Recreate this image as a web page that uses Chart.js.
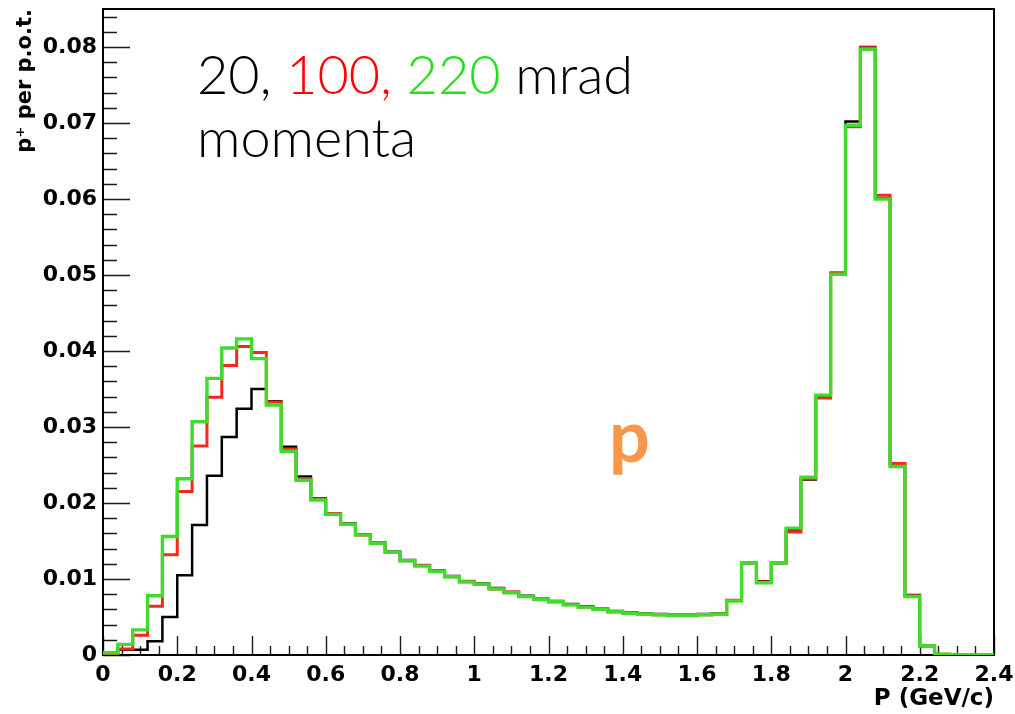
<!DOCTYPE html>
<html><head><meta charset="utf-8">
<script src="https://cdn.jsdelivr.net/npm/chart.js@4"></script>
<style>html,body{margin:0;padding:0;background:#fff;overflow:hidden;} canvas{display:block;}</style>
</head><body>
<canvas id="c" width="1015" height="714"></canvas>
<script>
// Histogram binning (60 bins, 0 – 2.4 GeV/c)
const binLow = 0;
const binWidth = 0.04;

// p+ per p.o.t. per bin
const mrad20 = [
  0.0000, 0.0007, 0.0007, 0.0018, 0.0050, 0.0105, 0.0171, 0.0236, 0.0287, 0.0324,
  0.0350, 0.0334, 0.0274, 0.0235, 0.0206, 0.0186, 0.0173, 0.0159, 0.0148, 0.0136,
  0.0125, 0.0118, 0.0111, 0.0104, 0.0097, 0.0094, 0.0088, 0.0083, 0.0078, 0.0074,
  0.0071, 0.0067, 0.0064, 0.0061, 0.0058, 0.0056, 0.0055, 0.0054, 0.0053, 0.0053,
  0.0054, 0.0055, 0.0072, 0.0121, 0.0097, 0.0121, 0.0165, 0.0231, 0.0340, 0.0503,
  0.0702, 0.0800, 0.0601, 0.0252, 0.0079, 0.0012, 0.0001, 0.0000, 0.0000, 0.0000
];
const mrad100 = [
  0.0002, 0.0008, 0.0026, 0.0064, 0.0132, 0.0215, 0.0275, 0.0339, 0.0381, 0.0406,
  0.0398, 0.0333, 0.0271, 0.0232, 0.0205, 0.0186, 0.0172, 0.0158, 0.0148, 0.0135,
  0.0124, 0.0118, 0.0111, 0.0103, 0.0097, 0.0093, 0.0087, 0.0083, 0.0077, 0.0073,
  0.0070, 0.0066, 0.0063, 0.0060, 0.0057, 0.0055, 0.0054, 0.0053, 0.0052, 0.0052,
  0.0053, 0.0054, 0.0072, 0.0121, 0.0096, 0.0121, 0.0162, 0.0232, 0.0338, 0.0502,
  0.0695, 0.0799, 0.0605, 0.0252, 0.0078, 0.0012, 0.0001, 0.0000, 0.0000, 0.0000
];
const mrad220 = [
  0.0003, 0.0014, 0.0033, 0.0078, 0.0156, 0.0232, 0.0307, 0.0364, 0.0404, 0.0416,
  0.0390, 0.0329, 0.0268, 0.0230, 0.0204, 0.0185, 0.0172, 0.0158, 0.0147, 0.0135,
  0.0124, 0.0117, 0.0110, 0.0103, 0.0096, 0.0093, 0.0087, 0.0082, 0.0077, 0.0073,
  0.0070, 0.0066, 0.0063, 0.0060, 0.0057, 0.0055, 0.0054, 0.0053, 0.0052, 0.0052,
  0.0053, 0.0054, 0.0071, 0.0121, 0.0095, 0.0121, 0.0167, 0.0234, 0.0342, 0.0501,
  0.0697, 0.0797, 0.0600, 0.0248, 0.0077, 0.0012, 0.0001, 0.0000, 0.0000, 0.0000
];

const xMin = 0, xMax = 2.4, xMajor = 0.2, xMinor = 0.05;
const yMin = 0, yMax = 0.085, yMajor = 0.01, yMinor = 0.002;

function histPoints(vals) {
  const pts = vals.map((v, i) => ({ x: binLow + i * binWidth, y: v }));
  pts.push({ x: binLow + vals.length * binWidth, y: vals[vals.length - 1] });
  return pts;
}

const BLACK = '#000000', RED = '#f02a1e', GREEN = '#3fdc2c';

const rootFrame = {
  id: 'rootFrame',
  beforeDatasetsDraw(chart) {
    const { ctx, chartArea: a, scales: { x, y } } = chart;
    ctx.save();
    ctx.strokeStyle = '#1a1a1a';
    ctx.lineWidth = 1.4;
    ctx.beginPath();
    const ny = Math.floor((yMax - yMin) / yMinor + 1e-6);
    for (let k = 0; k <= ny; k++) {
      const v = yMin + k * yMinor;
      const py = Math.round(y.getPixelForValue(v)) + 0.5;
      const major = k % 5 === 0;
      ctx.moveTo(a.left, py);
      ctx.lineTo(a.left + (major ? 27 : 14), py);
    }
    const nx = Math.floor((xMax - xMin) / xMinor + 1e-6);
    for (let k = 0; k <= nx; k++) {
      const v = xMin + k * xMinor;
      const px = Math.round(x.getPixelForValue(v)) + 0.5;
      const major = k % 4 === 0;
      ctx.moveTo(px, a.bottom);
      ctx.lineTo(px, a.bottom - (major ? 19 : 9));
    }
    ctx.stroke();
    ctx.strokeStyle = '#000';
    ctx.lineWidth = 2;
    ctx.strokeRect(a.left, a.top, a.right - a.left, a.bottom - a.top);
    ctx.restore();
  },
  afterDraw(chart) {
    const { ctx } = chart;
    ctx.save();
    ctx.textBaseline = 'alphabetic';
    ctx.textAlign = 'left';
    ctx.font = '300 54px Lato';
    const segs = [['20, ', '#000'], ['100, ', '#ff0000'], ['220', '#22e01c'], [' mrad', '#000']];
    let xx = 197;
    for (const [t, c] of segs) {
      ctx.fillStyle = c;
      ctx.fillText(t, xx, 94);
      xx += ctx.measureText(t).width;
    }
    ctx.fillStyle = '#000';
    ctx.fillText('momenta', 197, 157);
    ctx.font = 'bold 72px Lato';
    ctx.fillStyle = '#f7974a';
    ctx.fillText('p', 609, 462);
    ctx.restore();
  }
};

new Chart(document.getElementById('c'), {
  type: 'scatter',
  data: {
    datasets: [
      { label: '220 mrad', data: histPoints(mrad220), borderColor: GREEN, borderWidth: 3.4, order: 0 },
      { label: '100 mrad', data: histPoints(mrad100), borderColor: RED, borderWidth: 3, order: 1 },
      { label: '20 mrad', data: histPoints(mrad20), borderColor: BLACK, borderWidth: 2.5, order: 2 }
    ].map(d => Object.assign(d, { showLine: true, stepped: 'before', pointRadius: 0, pointHoverRadius: 0, fill: false }))
  },
  options: {
    responsive: false,
    animation: false,
    events: [],
    layout: { padding: { left: 0, right: 21, top: 9, bottom: 0 } },
    plugins: { legend: { display: false }, tooltip: { enabled: false }, title: { display: false } },
    scales: {
      x: {
        type: 'linear', min: xMin, max: xMax,
        grid: { display: false, drawTicks: false },
        border: { display: false },
        ticks: {
          stepSize: xMajor, autoSkip: false, maxRotation: 0, padding: 7, color: '#000',
          font: { family: 'DejaVu Sans', weight: 'bold', size: 22 },
          callback: v => parseFloat(v.toFixed(1)).toString()
        },
        title: {
          display: true, text: 'P (GeV/c)', align: 'end', color: '#000',
          font: { family: 'DejaVu Sans', weight: 'bold', size: 23 },
          padding: { top: 0, bottom: 1 }
        },
        afterFit: s => { s.height = 59; s.paddingLeft = 0; s.paddingRight = 0; }
      },
      y: {
        type: 'linear', min: yMin, max: yMax,
        grid: { display: false, drawTicks: false },
        border: { display: false },
        afterBuildTicks: s => { s.ticks = s.ticks.filter(t => t.value <= 0.0805); },
        ticks: {
          stepSize: yMajor, padding: 6, color: '#000',
          font: { family: 'DejaVu Sans', weight: 'bold', size: 22 },
          callback: v => (Math.abs(v) < 1e-9 ? '0' : v.toFixed(2))
        },
        title: {
          display: true, text: 'p\u207A per p.o.t.', align: 'end', color: '#000',
          font: { family: 'DejaVu Sans', weight: 'bold', size: 21 },
          padding: { top: 13, bottom: 0 }
        },
        afterFit: s => { s.width = 103; s.paddingTop = 0; s.paddingBottom = 0; }
      }
    }
  },
  plugins: [rootFrame]
});
</script>
</body></html>
